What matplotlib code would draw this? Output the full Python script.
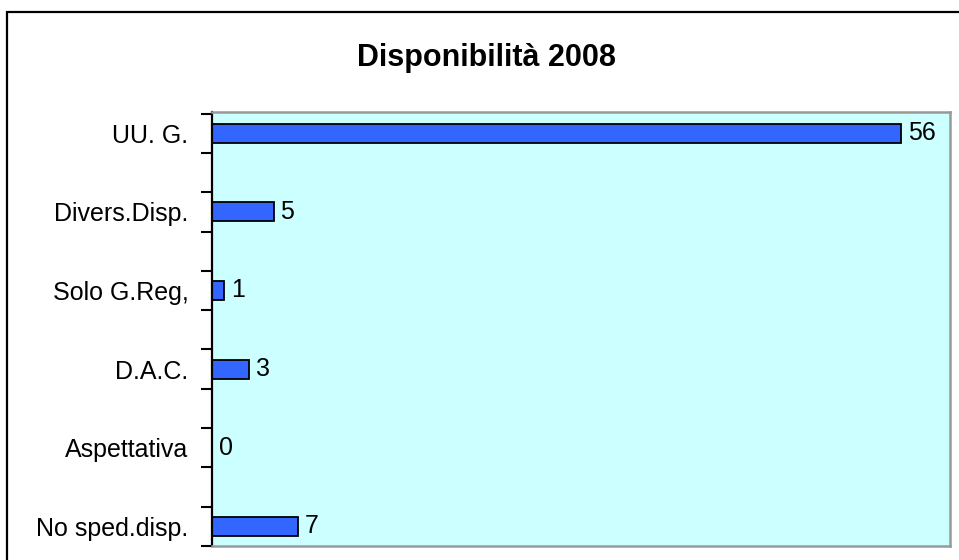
import matplotlib
matplotlib.use("Agg")
import matplotlib.pyplot as plt
from matplotlib.patches import Rectangle

# Data (top to bottom as shown)
categories = ["UU. G.", "Divers.Disp.", "Solo G.Reg,", "D.A.C.", "Aspettativa", "No sped.disp."]
values = [56, 5, 1, 3, 0, 7]

plt.rcParams['font.family'] = ['Liberation Sans', 'DejaVu Sans']

fig = plt.figure(figsize=(9.59, 5.6), dpi=100)
ax = fig.add_axes([212 / 959, 1 - 546 / 560, (950 - 212) / 959, (546 - 112) / 560])

pos = list(range(len(categories)))
ax.barh(pos, values, height=0.24, color="#3366FF", edgecolor="black", linewidth=1.3)

for p, v in zip(pos, values):
    ax.annotate(str(v), (v, p), xytext=(5, 0), textcoords="offset points",
                va="center", ha="left", fontsize=18)

ax.set_facecolor("#CCFFFF")
ax.set_xlim(0, 60)
ax.set_ylim(5.25, -0.27)
ax.set_xticks([])

# category labels at centres, tick marks between
ax.set_yticks(pos)
ax.set_yticklabels(categories, fontsize=18)
ax.tick_params(axis="y", which="major", length=0, pad=17)
ax.set_yticks([p + d for p in pos for d in (-0.25, 0.25)], minor=True)
ax.tick_params(axis="y", which="minor", length=8, width=1.5, color="black")

ax.spines["left"].set_color("black")
ax.spines["left"].set_linewidth(1.6)
for s in ("top", "right", "bottom"):
    ax.spines[s].set_color("#999999")
    ax.spines[s].set_linewidth(1.8)

fig.suptitle("Disponibilità 2008", x=486 / 959, y=1 - 58 / 560, va="center",
             fontsize=22, fontweight="bold")

# outer chart frame
fig.patches.append(Rectangle((7 / 959, -0.1), 1.2, 1.1 - 12 / 560, transform=fig.transFigure,
                             fill=False, edgecolor="black", linewidth=1.6))

fig.savefig("out.png", dpi=100)
